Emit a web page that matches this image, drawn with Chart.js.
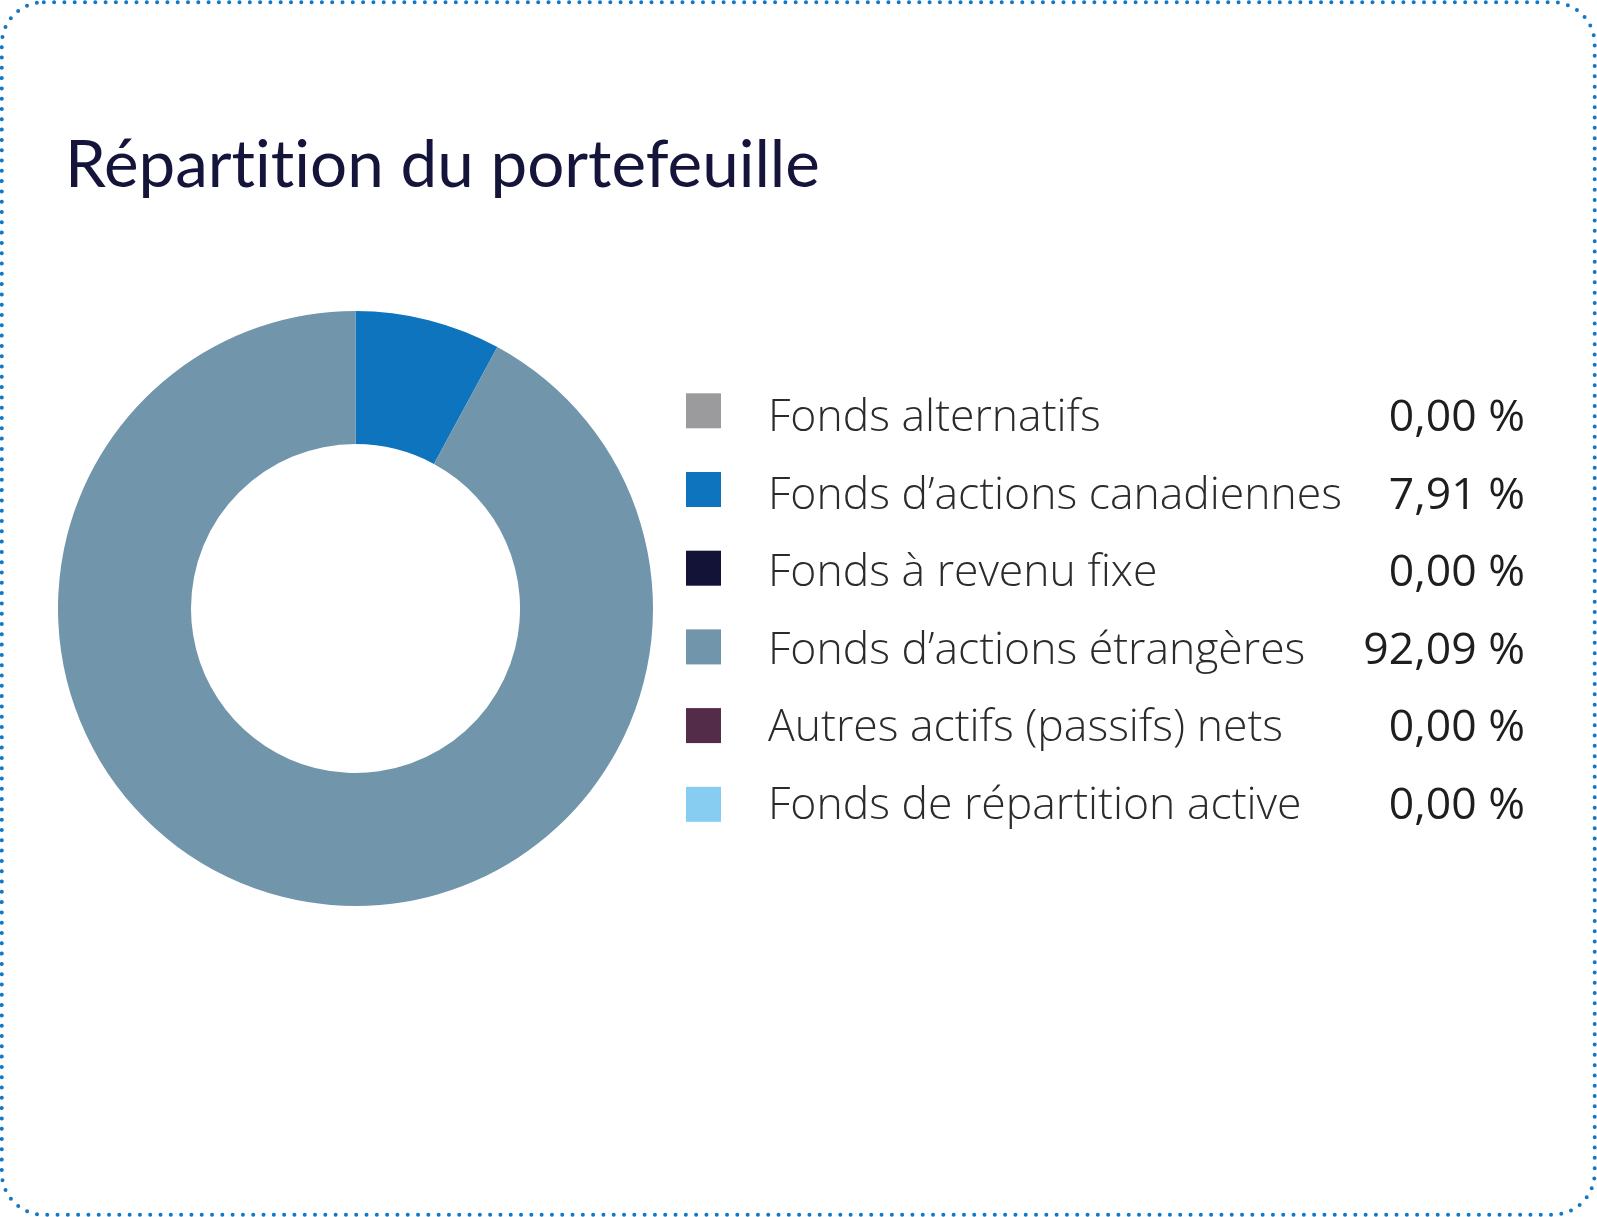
<!DOCTYPE html>
<html lang="fr">
<head>
<meta charset="utf-8">
<title>Répartition du portefeuille</title>
<script src="https://cdn.jsdelivr.net/npm/chart.js@4.4.1/dist/chart.umd.min.js"></script>
<style>
  html, body { margin: 0; padding: 0; background: #fff; }
  #wrap { position: relative; width: 1597px; height: 1217px; overflow: hidden; }
  #chart { position: absolute; left: 0; top: 0; }
  #frame { position: absolute; left: 0; top: 0; pointer-events: none; }
  h1 {
    position: absolute; left: 65px; top: 129px; margin: 0;
    font: 400 65.5px/1 Lato, sans-serif; color: #15143b;
    font-variant-ligatures: none; white-space: nowrap;
  }
</style>
</head>
<body>
<div id="wrap">
  <canvas id="chart" width="1597" height="1217"></canvas>
  <h1 id="title"></h1>
  <svg id="frame" width="1597" height="1217">
    <rect x="1.8" y="2.3" width="1592.9" height="1212.4" rx="42" ry="42"
          fill="none" stroke="#1177c7" stroke-width="4"
          stroke-dasharray="0 10.3" stroke-linecap="round"/>
  </svg>
</div>
<script>
const title = 'Répartition du portefeuille';
const categories = [
    'Fonds alternatifs',
    'Fonds d’actions canadiennes',
    'Fonds à revenu fixe',
    'Fonds d’actions étrangères',
    'Autres actifs (passifs) nets',
    'Fonds de répartition active'
];
const weights = [0.00, 7.91, 0.00, 92.09, 0.00, 0.00];
const colors = ['#9b9b9d', '#0d74bd', '#121336', '#7195ab', '#522c49', '#86cdf1'];

document.getElementById('title').textContent = title;

function formatPct(v) {
    return v.toFixed(2).replace('.', ',') + ' %';
}

// legend with values, drawn on the chart canvas
const sideLegend = {
    id: 'sideLegend',
    afterDraw(chart) {
        const ctx = chart.ctx;
        ctx.save();
        ctx.textBaseline = 'alphabetic';
        categories.forEach((label, i) => {
            ctx.fillStyle = colors[i];
            ctx.fillRect(686, 393.3 + i * 78.7, 35, 35);

            const baseline = 431 + i * 77.5;
            ctx.fillStyle = '#2b2b2b';
            ctx.font = '300 44.5px "Open Sans"';
            ctx.textAlign = 'left';
            ctx.fillText(label, 768, baseline);

            ctx.fillStyle = '#1e1e1e';
            ctx.font = '400 44.5px "Open Sans"';
            ctx.textAlign = 'right';
            ctx.fillText(formatPct(weights[i]), 1525, baseline);
        });
        ctx.restore();
    }
};

new Chart(document.getElementById('chart'), {
    type: 'doughnut',
    data: {
        labels: categories,
        datasets: [{
            data: weights,
            backgroundColor: colors,
            borderWidth: 0
        }]
    },
    options: {
        responsive: false,
        animation: false,
        cutout: '55.3%',
        layout: {
            padding: { left: 58, top: 311, right: 944, bottom: 311 }
        },
        plugins: {
            legend: { display: false },
            tooltip: { enabled: false }
        }
    },
    plugins: [sideLegend]
});
</script>
</body>
</html>
